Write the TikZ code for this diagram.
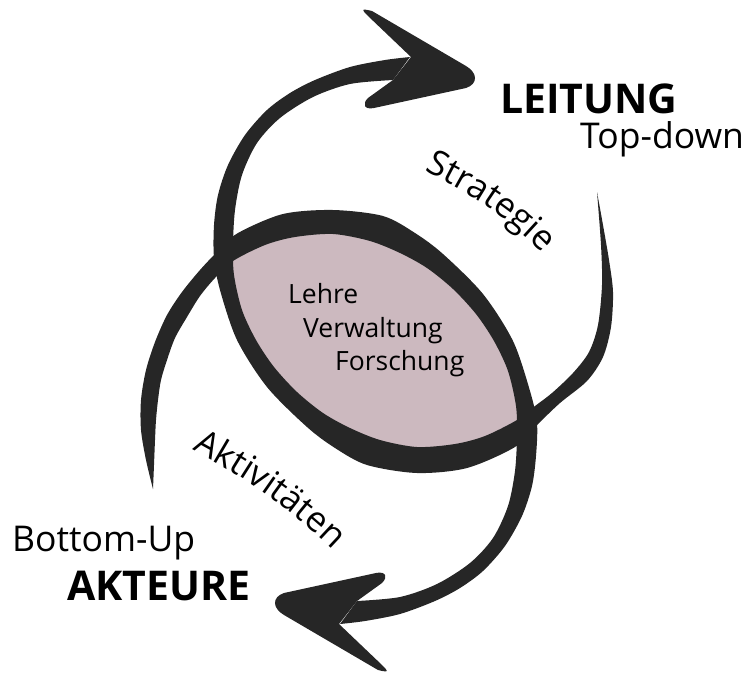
\documentclass[tikz,border=0pt]{standalone}
\usepackage{fontspec}
\setmainfont{Open Sans}
\usetikzlibrary{decorations.text}
\definecolor{ink}{RGB}{38,38,38}
\definecolor{lensfill}{RGB}{204,185,191}
\begin{document}
\begin{tikzpicture}[x=1pt,y=-1pt,
  band/.style={fill=ink},
  headshape/.style={fill=ink},
  titletext/.style={font=\fontsize{41}{42}\selectfont\bfseries, inner sep=0pt, anchor=base west},
  subtext/.style={font=\fontsize{35.5}{36}\selectfont, inner sep=0pt, anchor=base west},
  lenstext/.style={font=\fontsize{26.5}{27}\selectfont, inner sep=0pt, anchor=base west}]
\useasboundingbox (0,0) rectangle (750,675);
% lens fill
\fill[lensfill] plot[smooth cycle, tension=0.6] coordinates {
 (225,262) (260,235) (310,222) (360,224) (410,243) (460,280) (497,325) (520,375) (530,420)
 (500,442) (460,457) (417,460) (375,452) (340,438) (315,420) (285,385) (255,345) (238,305)};
% curve 2: right tail -> lens bottom -> lens left -> top arrow
\fill[band] plot[smooth, tension=0.5] coordinates {
 (597,192) (603,225) (609,260) (613,292) (611,327) (603,357) (587,381) (560,403) (537,425)
 (515,447) (467,468) (417,473) (367,465) (335,448) (307,427) (267,387) (237,340) (220,290)
 (214,258) (214,225) (218,195) (228,165) (245,135) (267,110) (290,93) (315,80) (350,67)
 (385,60) (410,57)}
 -- plot[smooth, tension=0.5] coordinates {
 (393,80) (350,84) (313,97) (280,118) (257,143) (242,175) (235,210) (233,245) (234,275)
 (242,310) (256,340) (274,367) (297,392) (323,413) (350,428) (380,440) (417,447) (455,444)
 (485,436) (517,420) (535,406) (552,393) (573,373) (589,352) (598,325) (602,285) (601,245)
 (597,192)} -- cycle;
\fill[headshape] (411,57) -- (368,16) .. controls (362,10) and (360,8) .. (372,11)
 -- (466,66) .. controls (478,73) and (478,84) .. (466,88)
 -- (374,108) .. controls (364,110) and (362,104) .. (368,98)
 -- (393,80) -- cycle;
% curve 1: left tail -> lens top -> lens right -> bottom arrow
\fill[band] plot[smooth, tension=0.5] coordinates {
 (153,489) (146,460) (141,430) (141,400) (146,370) (155,342) (167,315) (182,292) (200,270)
 (218,251) (238,233) (283,214) (333,210) (383,216) (415,233) (443,254) (483,294) (513,341)
 (530,391) (537,423) (536,456) (532,486) (522,516) (505,546) (483,571) (460,588) (435,601)
 (400,614) (365,621) (340,624)}
 -- plot[smooth, tension=0.5] coordinates {
 (357,601) (400,597) (437,584) (470,563) (493,538) (508,506) (515,471) (517,436) (516,406)
 (508,371) (494,341) (476,314) (453,289) (427,268) (400,253) (370,241) (333,234) (295,237)
 (265,245) (233,261) (215,278) (200,296) (187,317) (175,338) (167,360) (161,380) (158,400)
 (156,420) (155,440) (154,465) (153,489)} -- cycle;
\fill[headshape] (339,624) -- (382,665) .. controls (388,671) and (390,673) .. (378,670)
 -- (284,615) .. controls (272,608) and (272,597) .. (284,593)
 -- (376,573) .. controls (386,571) and (388,577) .. (382,583)
 -- (357,601) -- cycle;
% texts
\node[titletext] (leitung) at (500,113) {LEITUNG};
\node[subtext] (topdown) at (580,148) {Top-down};
\node[subtext] (bottomup) at (12,551) {Bottom-Up};
\node[titletext] (akteure) at (67,600) {AKTEURE};
\node[lenstext] (lehre) at (288,303) {Lehre};
\node[lenstext] (verwaltung) at (303,337) {Verwaltung};
\node[lenstext] (forschung) at (335,370) {Forschung};
\coordinate (sA) at (418,168);
\coordinate (sB) at (547,258);
\path[decorate, decoration={text along path, text align=center,
  text={|\fontsize{35}{36}\selectfont|Strategie}}]
  (sA) .. controls (470,193) and (507,215) .. (sB);
\coordinate (aA) at (190,448);
\coordinate (aB) at (335,552);
\path[decorate, decoration={text along path, text align=center,
  text={|\fontsize{35}{36}\selectfont|Aktivitäten}}]
  (aA) .. controls (240,475) and (287,505) .. (aB);
\end{tikzpicture}
\end{document}
